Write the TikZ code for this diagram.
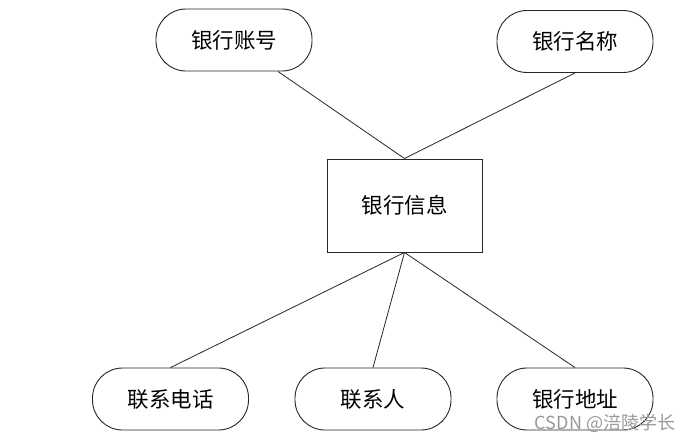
\documentclass[tikz,border=0pt]{standalone}
\usepackage{fontspec}
\usetikzlibrary{calc}
\newfontfamily\cjk{Noto Sans CJK SC}
\begin{document}
\begin{tikzpicture}[x=1pt,y=-1pt,
  attr/.style={draw=black!85, line width=0.9pt, rounded corners=30pt, minimum width=156pt, minimum height=62pt, inner sep=0pt, font=\cjk\fontsize{21.5}{24}\selectfont},
  ent/.style={draw=black!85, line width=0.9pt, minimum width=155pt, minimum height=93pt, inner sep=0pt, font=\cjk\fontsize{21.5}{24}\selectfont},
  link/.style={draw=black!85, line width=0.8pt}]
\useasboundingbox (0,0) rectangle (690,442);
\fill[white] (0,0) rectangle (690,442);
\node[ent] (e) at (404.5,205.5) {银行信息};
\node[attr] (a1) at (234,40) {银行账号};
\node[attr] (a2) at (575,41.5) {银行名称};
\node[attr] (b1) at (170.5,399) {联系电话};
\node[attr] (b2) at (373,399) {联系人};
\node[attr] (b3) at (575,399) {银行地址};
\coordinate (a1p) at ($(a1.south west)!0.78!(a1.south east)$);
\draw[link] (a1p) -- (e.north);
\draw[link] (a2.south) -- (e.north);
\draw[link] (e.south) -- (b1.north);
\draw[link] (e.south) -- (b2.north);
\draw[link] (e.south) -- (b3.north);
\node[font=\cjk\fontsize{18}{20}\selectfont, text=black!40, inner sep=0pt] (wm) at (605,423) {CSDN @涪陵学长};
\end{tikzpicture}
\end{document}
